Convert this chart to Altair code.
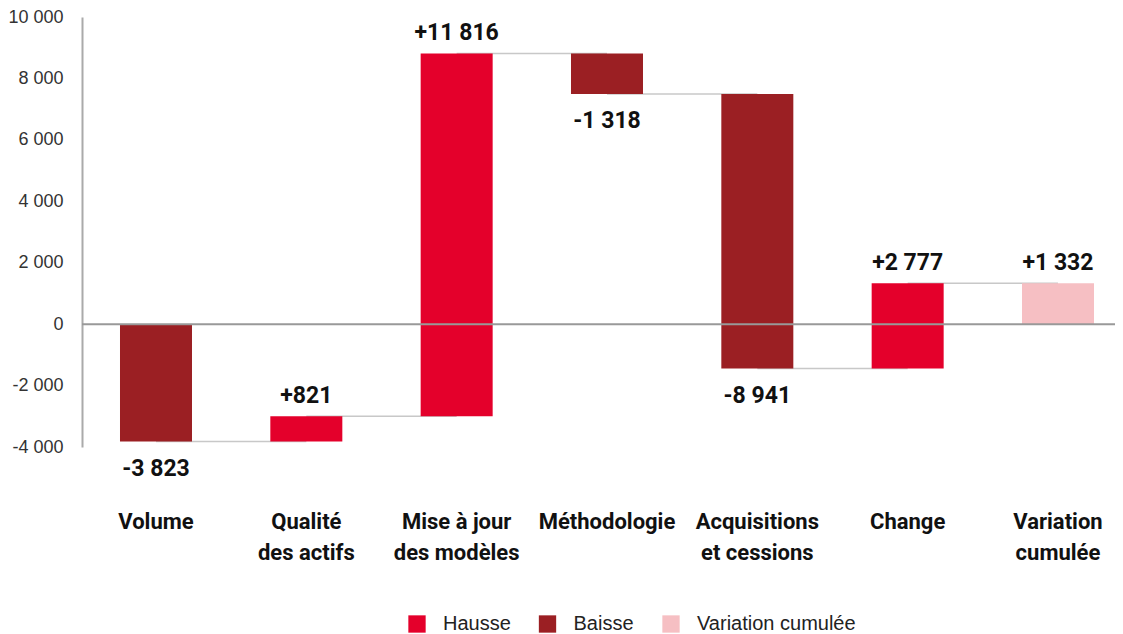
import altair as alt
import pandas as pd

categories = ["Volume", "Qualité\ndes actifs", "Mise à jour\ndes modèles", "Méthodologie",
              "Acquisitions\net cessions", "Change", "Variation\ncumulée"]
variations = [-3823, 821, 11816, -1318, -8941, 2777, 1332]
types = ["Baisse", "Hausse", "Hausse", "Baisse", "Baisse", "Hausse", "Variation cumulée"]
legend_labels = ["Hausse", "Baisse", "Variation cumulée"]
legend_colors = ["#E4002B", "#9B1F23", "#F6BFC3"]
y_ticks = [-4000, -2000, 0, 2000, 4000, 6000, 8000, 10000]

rows = []
cum = 0
for cat, v, t in zip(categories, variations, types):
    if t == "Variation cumulée":
        start, end = 0, v
    else:
        start, end = cum, cum + v
        cum = end
    label = ("+" if v > 0 else "-") + f"{abs(v):,}".replace(",", " ")
    rows.append(dict(cat=cat, start=start, end=end, type=t, label=label,
                     top=max(start, end), bottom=min(start, end), pos=v > 0))
bars_df = pd.DataFrame(rows)

conn_rows = []
for i in range(len(categories) - 1):
    conn_rows.append(dict(cat=categories[i], cat2=categories[i + 1], level=rows[i]["end"]))
conn_df = pd.DataFrame(conn_rows)

BOLD = "Roboto"
LIGHT = "Liberation Sans"

xscale = alt.Scale(domain=categories, paddingInner=0.521, paddingOuter=0.1962, align=0.644)
yscale = alt.Scale(domain=[-4000, 10000], nice=False, zero=False)

x_enc = alt.X("cat:N", scale=xscale, sort=categories, title=None,
              axis=alt.Axis(labelAngle=0, labelAlign="center",
                            labelExpr="split(datum.label, '\\n')",
                            labelFont=BOLD, labelFontWeight="bold", labelFontSize=22,
                            labelColor="#111", labelLineHeight=31, labelPadding=64,
                            labelBaseline="top", ticks=False, domain=False))
y_enc = alt.Y("start:Q", scale=yscale, title=None,
              axis=alt.Axis(values=y_ticks, grid=False, ticks=False, labelPadding=19,
                            labelFont=LIGHT, labelFontSize=18, labelColor="#333",
                            domainColor="#aaaaaa", domainWidth=2,
                            labelExpr="(datum.value < 0 ? '-' : '') + replace(format(abs(datum.value), ','), ',', ' ')"))

base = alt.Chart(bars_df)

connectors = alt.Chart(conn_df).mark_rule(color="#c8c8c8", strokeWidth=1.5).encode(
    x=alt.X("cat:N", scale=xscale, sort=categories),
    x2="cat2:N",
    y=alt.Y("level:Q", scale=yscale),
)

bars = base.mark_bar(size=72).encode(
    x=x_enc,
    y=y_enc,
    y2="end:Q",
    color=alt.Color("type:N", scale=alt.Scale(domain=legend_labels, range=legend_colors),
                    legend=alt.Legend(title=None, orient="none", direction="horizontal",
                                      legendX=325, legendY=597, symbolType="square",
                                      symbolSize=300, symbolStrokeWidth=0, labelFont=LIGHT,
                                      labelFontSize=20, labelColor="#222", labelOffset=16,
                                      columnPadding=26.5)),
)

zero = alt.Chart(pd.DataFrame({"z": [0]})).mark_rule(color="#999999", strokeWidth=2).encode(
    y=alt.Y("z:Q", scale=yscale)
)

labels_pos = base.transform_filter("datum.pos").mark_text(
    baseline="alphabetic", dy=-13, font=BOLD, fontWeight="bold", fontSize=23, color="#111"
).encode(x=alt.X("cat:N", scale=xscale, sort=categories), y=alt.Y("top:Q", scale=yscale), text="label:N")

labels_neg = base.transform_filter("!datum.pos").mark_text(
    baseline="top", dy=16, font=BOLD, fontWeight="bold", fontSize=23, color="#111"
).encode(x=alt.X("cat:N", scale=xscale, sort=categories), y=alt.Y("bottom:Q", scale=yscale), text="label:N")

chart = alt.layer(connectors, bars, zero, labels_pos, labels_neg).properties(
    width=1033, height=430,
    autosize=alt.AutoSizeParams(type="none"),
    padding={"left": 74, "top": 9, "right": 0, "bottom": 190},
).configure_view(stroke=None)

chart.save("out.html", embed_options={"renderer": "svg", "actions": False})
